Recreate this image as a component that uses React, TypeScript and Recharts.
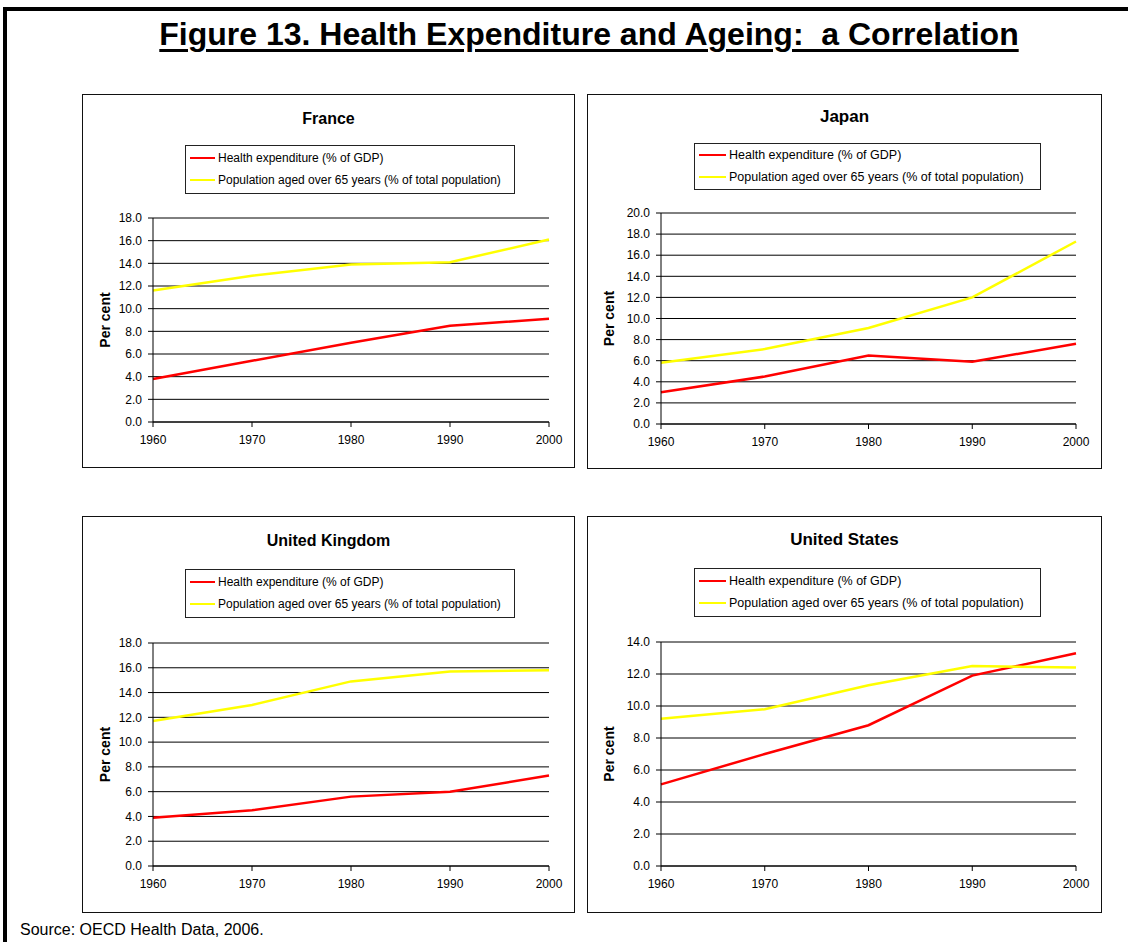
import React from 'react';
import { LineChart, Line, XAxis, YAxis, CartesianGrid, Legend } from 'recharts';

// years on the x axis
const years = [1960, 1970, 1980, 1990, 2000];

// France
const franceHealth = [3.8, 5.4, 7.0, 8.5, 9.1];
const franceAged = [11.6, 12.9, 13.9, 14.1, 16.1];
// Japan
const japanHealth = [3.0, 4.5, 6.5, 5.9, 7.6];
const japanAged = [5.8, 7.1, 9.1, 12.0, 17.3];
// United Kingdom
const ukHealth = [3.9, 4.5, 5.6, 6.0, 7.3];
const ukAged = [11.7, 13.0, 14.9, 15.7, 15.8];
// United States
const usHealth = [5.1, 7.0, 8.8, 11.9, 13.3];
const usAged = [9.2, 9.8, 11.3, 12.5, 12.4];

const ticks18 = [0, 2, 4, 6, 8, 10, 12, 14, 16, 18];
const ticks20 = [0, 2, 4, 6, 8, 10, 12, 14, 16, 18, 20];
const ticks14 = [0, 2, 4, 6, 8, 10, 12, 14];

const healthName = 'Health expenditure (% of GDP)';
const agedName = 'Population aged over 65 years (% of total population)';

const FONT = '"Liberation Sans", Arial, Helvetica, sans-serif';

const LegendBox = ({ payload, fontSize, textLeft, rowTop }: any) => (
  <div
    style={{
      width: '100%',
      height: '100%',
      boxSizing: 'border-box',
      border: '1px solid #222',
      background: '#fff',
      position: 'relative',
      fontFamily: FONT,
    }}
  >
    {(payload || []).map((entry: any, i: number) => (
      <div
        key={`leg-${i}`}
        style={{
          position: 'absolute',
          left: 4,
          top: rowTop + i * 22,
          height: 18,
          display: 'flex',
          alignItems: 'center',
          fontSize,
          color: '#000',
          whiteSpace: 'nowrap',
        }}
      >
        <span
          style={{
            display: 'inline-block',
            width: textLeft - 8,
            borderTop: `2.5px solid ${entry.color}`,
            marginRight: 3,
          }}
        />
        <span>{entry.value}</span>
      </div>
    ))}
  </div>
);

const PerCentLabel = (props: any) => {
  const vb = props.viewBox || {};
  const px = (vb.x || 0) + props.labelX;
  const py = (vb.y || 0) + (vb.height || 0) / 2;
  return (
    <text
      x={px}
      y={py}
      transform={`rotate(-90 ${px} ${py})`}
      textAnchor="middle"
      dominantBaseline="central"
      fontSize={14}
      fontWeight="bold"
      fill="#000"
      fontFamily={FONT}
    >
      Per cent
    </text>
  );
};

interface PanelProps {
  title: string;
  health: number[];
  aged: number[];
  yTicks: number[];
  left: number;
  top: number;
  width: number;
  height: number;
  plotLeft: number;
  plotTop: number;
  plotRight: number;
  plotBottom: number;
  titleY: number;
  titleSize: number;
  legendBox: { x: number; y: number; w: number; h: number };
  legendFont: number;
  legendTextLeft: number;
  legendRowTop: number;
  yLabelX: number;
}

const Panel: React.FC<PanelProps> = (p) => {
  const data = years.map((y, i) => ({ year: y, health: p.health[i], aged: p.aged[i] }));
  const innerW = p.width - 2;
  const innerH = p.height - 2;
  return (
    <div
      style={{
        position: 'absolute',
        left: p.left,
        top: p.top,
        width: p.width,
        height: p.height,
        boxSizing: 'border-box',
        border: '1px solid #111',
        background: '#fff',
      }}
    >
      <div
        style={{
          position: 'absolute',
          left: 0,
          width: innerW,
          top: p.titleY - 10,
          height: 20,
          lineHeight: '20px',
          textAlign: 'center',
          fontWeight: 'bold',
          fontSize: p.titleSize,
          fontFamily: FONT,
          color: '#000',
        }}
      >
        {p.title}
      </div>
      <LineChart
        width={innerW}
        height={innerH}
        data={data}
        margin={{ top: p.plotTop, right: innerW - p.plotRight, bottom: 0, left: 0 }}
      >
        <CartesianGrid vertical={false} stroke="#000" strokeWidth={1} />
        <XAxis
          dataKey="year"
          type="number"
          domain={[1960, 2000]}
          ticks={years}
          height={innerH - p.plotBottom}
          axisLine={{ stroke: '#000' }}
          tickLine={{ stroke: '#000' }}
          tickSize={5}
          tickMargin={8}
          tick={{ fill: '#000', fontSize: 12, fontFamily: FONT }}
        />
        <YAxis
          type="number"
          domain={[0, p.yTicks[p.yTicks.length - 1]]}
          ticks={p.yTicks}
          width={p.plotLeft}
          interval={0}
          axisLine={{ stroke: '#000' }}
          tickLine={{ stroke: '#000' }}
          tickSize={5}
          tickMargin={6}
          tickFormatter={(v: number) => v.toFixed(1)}
          tick={{ fill: '#000', fontSize: 12, fontFamily: FONT }}
          label={(lp: any) => <PerCentLabel {...lp} labelX={p.yLabelX} />}
        />
        <Legend
          layout="horizontal"
          verticalAlign="middle"
          align="center"
          wrapperStyle={{
            position: 'absolute',
            left: p.legendBox.x,
            top: p.legendBox.y,
            width: p.legendBox.w,
            height: p.legendBox.h,
            margin: 0,
          }}
          content={(lp: any) => (
            <LegendBox
              payload={lp.payload}
              fontSize={p.legendFont}
              textLeft={p.legendTextLeft}
              rowTop={p.legendRowTop}
            />
          )}
        />
        <Line
          type="linear"
          dataKey="health"
          name={healthName}
          stroke="#ff0000"
          strokeWidth={2.5}
          dot={false}
          isAnimationActive={false}
        />
        <Line
          type="linear"
          dataKey="aged"
          name={agedName}
          stroke="#ffff00"
          strokeWidth={2.5}
          dot={false}
          isAnimationActive={false}
        />
      </LineChart>
    </div>
  );
};

const App: React.FC = () => {
  return (
    <div
      style={{
        position: 'absolute',
        left: 0,
        top: 0,
        width: 1128,
        height: 942,
        background: '#fff',
        overflow: 'hidden',
        fontFamily: FONT,
      }}
    >
      {/* outer frame (top and left only) */}
      <div style={{ position: 'absolute', left: 3, top: 7, width: 1125, height: 4, background: '#000' }} />
      <div style={{ position: 'absolute', left: 3, top: 7, width: 4, height: 935, background: '#000' }} />

      <div
        style={{
          position: 'absolute',
          left: 89,
          width: 1000,
          top: 18,
          lineHeight: '32px',
          textAlign: 'center',
          fontSize: 32,
          fontWeight: 'bold',
          color: '#000',
          textDecoration: 'underline',
          textDecorationThickness: 3,
          textUnderlineOffset: 4,
          whiteSpace: 'pre',
        }}
      >
        {'Figure 13. Health Expenditure and Ageing:  a Correlation'}
      </div>

      <Panel
        title="France"
        health={franceHealth}
        aged={franceAged}
        yTicks={ticks18}
        left={82}
        top={94}
        width={493}
        height={374}
        plotLeft={70}
        plotTop={123}
        plotRight={466}
        plotBottom={327}
        titleY={24}
        titleSize={16}
        legendBox={{ x: 102, y: 50, w: 330, h: 49 }}
        legendFont={12}
        legendTextLeft={33}
        legendRowTop={3}
        yLabelX={22}
      />
      <Panel
        title="Japan"
        health={japanHealth}
        aged={japanAged}
        yTicks={ticks20}
        left={587}
        top={94}
        width={515}
        height={375}
        plotLeft={73}
        plotTop={118}
        plotRight={488}
        plotBottom={329}
        titleY={22}
        titleSize={17}
        legendBox={{ x: 106, y: 48, w: 347, h: 47 }}
        legendFont={12.5}
        legendTextLeft={35}
        legendRowTop={2}
        yLabelX={21}
      />
      <Panel
        title="United Kingdom"
        health={ukHealth}
        aged={ukAged}
        yTicks={ticks18}
        left={82}
        top={516}
        width={493}
        height={397}
        plotLeft={70}
        plotTop={126}
        plotRight={466}
        plotBottom={349}
        titleY={24}
        titleSize={16}
        legendBox={{ x: 102, y: 52, w: 330, h: 49 }}
        legendFont={12}
        legendTextLeft={33}
        legendRowTop={3}
        yLabelX={22}
      />
      <Panel
        title="United States"
        health={usHealth}
        aged={usAged}
        yTicks={ticks14}
        left={587}
        top={516}
        width={515}
        height={397}
        plotLeft={73}
        plotTop={125}
        plotRight={488}
        plotBottom={349}
        titleY={23}
        titleSize={17}
        legendBox={{ x: 106, y: 51, w: 347, h: 49 }}
        legendFont={12.5}
        legendTextLeft={35}
        legendRowTop={3}
        yLabelX={21}
      />

      <div
        style={{
          position: 'absolute',
          left: 20,
          top: 921,
          lineHeight: '18px',
          fontSize: 16,
          color: '#000',
          whiteSpace: 'nowrap',
        }}
      >
        Source: OECD Health Data, 2006.
      </div>
    </div>
  );
};

export default App;
